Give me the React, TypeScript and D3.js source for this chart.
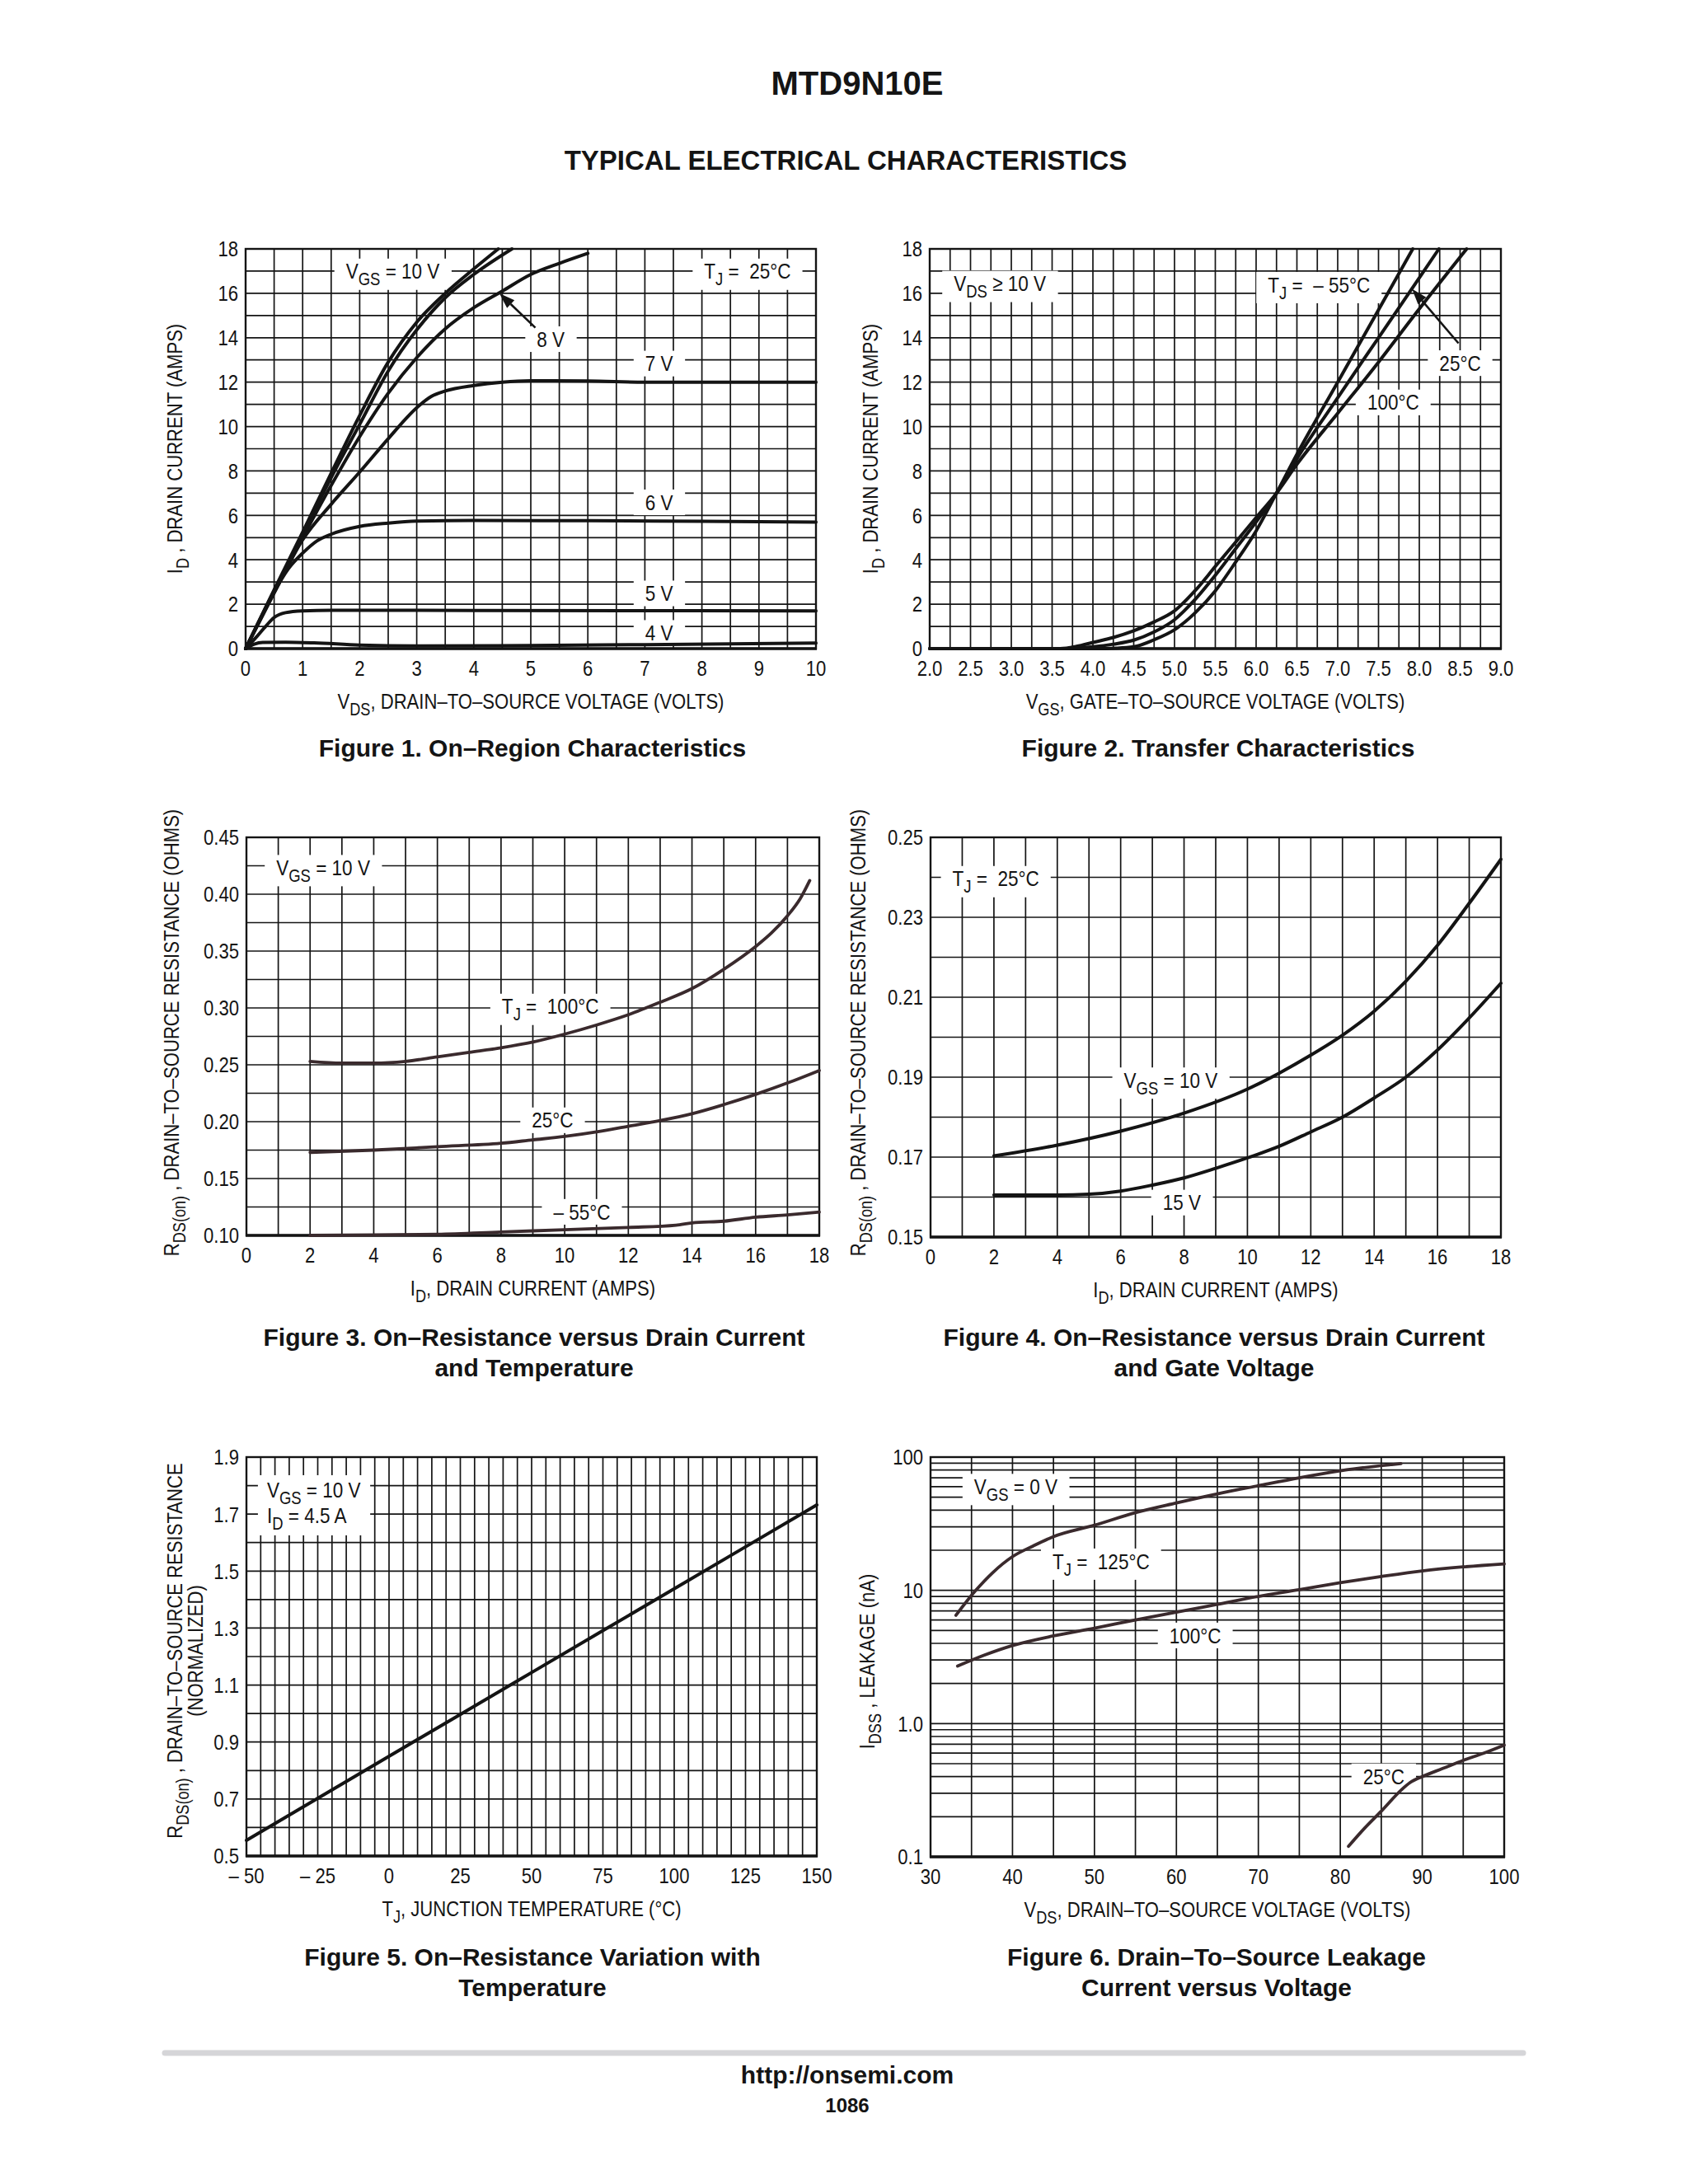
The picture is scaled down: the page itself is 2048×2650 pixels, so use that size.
import React, { useLayoutEffect, useRef, useState } from "react";
import * as d3 from "d3";

type Pt = [number, number];
type Part = [string, number?];

const FONT = "'Liberation Sans', Arial, Helvetica, sans-serif";
const INK = "#141414";
const BROWN = "#3a2a2d";
const SX = 0.85; // horizontal compression imitating a condensed face

// ---------------- Figure 1: On-Region Characteristics ----------------
const f1Vgs10: Pt[] = [[0, 0], [0.5, 2.65], [1, 5.25], [1.5, 7.9], [2, 10.5], [2.5, 12.9], [3, 14.7], [3.5, 16.0], [4, 17.1], [4.43, 18]];
const f1Vgs9: Pt[] = [[0, 0], [0.5, 2.6], [1, 5.15], [1.5, 7.7], [2, 10.1], [2.5, 12.5], [3, 14.35], [3.5, 15.8], [4, 16.85], [4.67, 18]];
const f1Vgs8: Pt[] = [[0, 0], [0.5, 2.55], [1, 5.0], [1.5, 7.35], [2, 9.55], [2.5, 11.5], [3, 13.1], [3.5, 14.4], [4, 15.35], [4.5, 16.1], [5, 16.85], [5.5, 17.35], [6, 17.8]];
const f1Vgs7: Pt[] = [[0, 0], [0.5, 2.5], [1, 4.9], [1.5, 6.5], [2, 7.95], [2.5, 9.45], [3, 10.85], [3.25, 11.35], [3.5, 11.6], [4, 11.85], [4.5, 12.0], [5, 12.06], [6, 12.05], [7, 12.0], [8, 12.0], [10, 12.0]];
const f1Vgs6: Pt[] = [[0, 0], [0.25, 1.3], [0.5, 2.55], [0.75, 3.6], [1, 4.3], [1.25, 4.85], [1.5, 5.15], [2, 5.5], [2.5, 5.65], [3, 5.74], [4, 5.77], [6, 5.76], [8, 5.73], [10, 5.7]];
const f1Vgs5: Pt[] = [[0, 0], [0.2, 0.55], [0.35, 1.0], [0.5, 1.4], [0.7, 1.62], [1, 1.7], [1.5, 1.73], [4, 1.72], [10, 1.7]];
const f1Vgs4: Pt[] = [[0, 0], [0.15, 0.2], [0.3, 0.28], [0.7, 0.29], [1.2, 0.26], [2, 0.16], [3, 0.12], [5, 0.14], [7, 0.18], [10, 0.25]];
const f1XTicks = [0, 1, 2, 3, 4, 5, 6, 7, 8, 9, 10];
const f1YTicks = [0, 2, 4, 6, 8, 10, 12, 14, 16, 18];

// ---------------- Figure 2: Transfer Characteristics ----------------
const f2Tm55: Pt[] = [[2, 0], [3.5, 0], [4.0, 0], [4.3, 0.02], [4.5, 0.08], [4.75, 0.4], [5.0, 0.85], [5.25, 1.6], [5.5, 2.6], [5.75, 3.9], [6.0, 5.3], [6.25, 7.0], [6.5, 8.75], [7.0, 12.0], [7.5, 15.25], [7.92, 18]];
const f2T25: Pt[] = [[2, 0], [3.7, 0], [4.0, 0.08], [4.25, 0.2], [4.5, 0.38], [4.75, 0.75], [5.0, 1.3], [5.25, 2.2], [5.5, 3.3], [5.75, 4.5], [6.0, 5.7], [6.25, 7.0], [6.5, 8.55], [7.0, 11.3], [7.5, 14.0], [8.0, 16.7], [8.24, 18]];
const f2T100: Pt[] = [[2, 0], [3.6, 0], [3.8, 0.1], [4.0, 0.28], [4.25, 0.5], [4.5, 0.8], [4.75, 1.2], [5.0, 1.7], [5.25, 2.6], [5.5, 3.7], [5.75, 4.8], [6.0, 5.9], [6.25, 7.0], [6.5, 8.3], [7.0, 10.6], [7.5, 12.9], [8.0, 15.3], [8.58, 18]];
const f2XTicks = [2.0, 2.5, 3.0, 3.5, 4.0, 4.5, 5.0, 5.5, 6.0, 6.5, 7.0, 7.5, 8.0, 8.5, 9.0];
const f2YTicks = [0, 2, 4, 6, 8, 10, 12, 14, 16, 18];

// ---------------- Figure 3: RDS(on) vs ID and temperature ----------------
const f3T100: Pt[] = [[2, 0.253], [3, 0.2515], [4, 0.2515], [5, 0.253], [6, 0.257], [7, 0.261], [8, 0.265], [9, 0.270], [10, 0.277], [11, 0.285], [12, 0.294], [13, 0.305], [14, 0.317], [15, 0.334], [16, 0.354], [16.5, 0.366], [17, 0.381], [17.4, 0.396], [17.7, 0.412]];
const f3T25: Pt[] = [[2, 0.173], [4, 0.175], [6, 0.178], [8, 0.181], [9, 0.184], [10, 0.187], [11, 0.191], [12, 0.196], [13, 0.201], [14, 0.207], [15, 0.215], [16, 0.224], [17, 0.234], [18, 0.245]];
const f3Tm55: Pt[] = [[2, 0.1], [4, 0.1005], [6, 0.101], [8, 0.103], [10, 0.105], [12, 0.107], [13.5, 0.109], [14, 0.111], [15, 0.1125], [16, 0.116], [17, 0.118], [18, 0.1205]];
const f3XTicks = [0, 2, 4, 6, 8, 10, 12, 14, 16, 18];
const f3YTicks = [0.1, 0.15, 0.2, 0.25, 0.3, 0.35, 0.4, 0.45];

// ---------------- Figure 4: RDS(on) vs ID and gate voltage ----------------
const f4Vgs10: Pt[] = [[2, 0.1703], [4, 0.173], [6, 0.1765], [8, 0.181], [10, 0.187], [11, 0.191], [12, 0.1955], [13, 0.2005], [14, 0.2065], [15, 0.214], [16, 0.223], [17, 0.2335], [18, 0.2445]];
const f4Vgs15: Pt[] = [[2, 0.1605], [4, 0.1605], [5, 0.1607], [6, 0.1615], [7, 0.163], [8, 0.1648], [9, 0.1672], [10, 0.1698], [11, 0.1727], [12, 0.1763], [13, 0.18], [14, 0.1848], [15, 0.19], [16, 0.1968], [17, 0.2048], [18, 0.2135]];
const f4XTicks = [0, 2, 4, 6, 8, 10, 12, 14, 16, 18];
const f4YTicks = [0.15, 0.17, 0.19, 0.21, 0.23, 0.25];

// ---------------- Figure 5: RDS(on) vs temperature ----------------
const f5Line: Pt[] = [[-50, 0.555], [0, 0.85], [25, 0.997], [50, 1.144], [75, 1.291], [100, 1.438], [125, 1.585], [150, 1.732]];
const f5XTicks = [-50, -25, 0, 25, 50, 75, 100, 125, 150];
const f5YTicks = [0.5, 0.7, 0.9, 1.1, 1.3, 1.5, 1.7, 1.9];

// ---------------- Figure 6: Leakage ----------------
const f6T125: Pt[] = [[33.1, 6.5], [35.4, 9.8], [37.6, 13.6], [40, 17.9], [42.5, 21.5], [45, 25.3], [50, 30.8], [55, 38.3], [60, 45.3], [65, 53], [70, 61], [75, 70], [80, 79], [87.4, 89.5]];
const f6T100: Pt[] = [[33.3, 2.7], [36.5, 3.25], [40, 3.85], [45, 4.55], [50, 5.2], [55, 6.0], [60, 6.85], [65, 7.85], [70, 9.0], [75, 10.1], [80, 11.4], [85, 12.7], [90, 14.0], [95, 15.0], [100, 15.8]];
const f6T25: Pt[] = [[81, 0.12], [83, 0.165], [85, 0.22], [87.5, 0.32], [88.5, 0.36], [90, 0.4], [92.5, 0.46], [95, 0.53], [97.5, 0.6], [100, 0.69]];
const f6XTicks = [30, 40, 50, 60, 70, 80, 90, 100];
const f6YTicks = [0.1, 1, 10, 100];
const f6YTickLabels = ["0.1", "1.0", "10", "100"];

// ---------------- helpers ----------------
function Rich({ parts, size }: { parts: Part[]; size: number }) {
  const out: any[] = [];
  let shifted = false;
  const d = size * 0.3;
  parts.forEach((p, i) => {
    const [t, sub] = p;
    if (sub && !shifted) {
      out.push(<tspan key={i} dy={d} fontSize={size * 0.82}>{t}</tspan>);
      shifted = true;
    } else if (!sub && shifted) {
      out.push(<tspan key={i} dy={-d} fontSize={size}>{t}</tspan>);
      shifted = false;
    } else {
      out.push(<tspan key={i} fontSize={sub ? size * 0.82 : size}>{t}</tspan>);
    }
  });
  return <>{out}</>;
}

// condensed text at (x, y baseline)
function CT({ x, y, size, anchor = "middle", rotate = false, children, weight }: any) {
  return (
    <text transform={`translate(${x},${y})${rotate ? " rotate(-90)" : ""} scale(${SX},1)`} x={0} y={0}
      textAnchor={anchor} fontSize={size} fontFamily={FONT} fill={INK} fontWeight={weight} style={{ whiteSpace: "pre" }}>
      {children}
    </text>
  );
}

const LS = 26.5;
function Label({ x, y, lines, size = LS, padX = 14, padY = 1, anchor = "middle", lineH = 31 }: any) {
  const ref = useRef<SVGGElement>(null);
  const [bb, setBb] = useState<any>(null);
  useLayoutEffect(() => {
    if (ref.current) {
      const b = ref.current.getBBox();
      setBb({ x: b.x, y: b.y, w: b.width, h: b.height });
    }
  }, [x, y]);
  return (
    <g>
      {bb && <rect x={bb.x - padX} y={bb.y - padY} width={bb.w + 2 * padX} height={bb.h + 2 * padY} fill="#fff" />}
      <g ref={ref}>
        {lines.map((parts: Part[], i: number) => (
          <CT key={i} x={x} y={y + size * 0.36 + (i - (lines.length - 1) / 2) * lineH} anchor={anchor} size={size}>
            <Rich parts={parts} size={size} />
          </CT>
        ))}
      </g>
    </g>
  );
}

function Arrow({ x1, y1, x2, y2 }: any) {
  const a = Math.atan2(y2 - y1, x2 - x1);
  const L = 19, Wd = 6.5;
  const bx = x2 - L * Math.cos(a), by = y2 - L * Math.sin(a);
  const px = -Math.sin(a) * Wd, py = Math.cos(a) * Wd;
  return (
    <g>
      <line x1={x1} y1={y1} x2={bx} y2={by} stroke={INK} strokeWidth={2.6} />
      <polygon points={`${x2},${y2} ${bx + px},${by + py} ${bx - px},${by - py}`} fill={INK} />
    </g>
  );
}

function Curve({ pts, xs, ys, color = INK, width = 4, linear = false }: any) {
  const gen = d3.line<Pt>().x((d) => xs(d[0])).y((d) => ys(d[1])).curve(linear ? d3.curveLinear : d3.curveMonotoneX);
  return <path d={gen(pts) || ""} fill="none" stroke={color} strokeWidth={width} strokeLinecap="round" strokeLinejoin="round" />;
}

const TK = 26;
const AT = 26;
function Panel({ box, xs, ys, gridX, gridY, tickX, fmtX, tickY, fmtY, xTitle, yTitles, yTitleX, yTitleY, children }: any) {
  const { L, R, T, B } = box;
  return (
    <g>
      <rect x={L} y={T} width={R - L} height={B - T} fill="#fff" />
      {gridX.map((v: number, i: number) => (
        <line key={"gx" + i} x1={xs(v)} x2={xs(v)} y1={T} y2={B} stroke={INK} strokeWidth={1.7} />
      ))}
      {gridY.map((v: number, i: number) => (
        <line key={"gy" + i} x1={L} x2={R} y1={ys(v)} y2={ys(v)} stroke={INK} strokeWidth={1.7} />
      ))}
      <rect x={L} y={T} width={R - L} height={B - T} fill="none" stroke={INK} strokeWidth={2.4} />
      <line x1={L - 1} x2={R + 1} y1={B} y2={B} stroke={INK} strokeWidth={3.6} />
      {tickX.map((v: number, i: number) => (
        <CT key={"tx" + i} x={xs(v)} y={B + 24 + TK * 0.36} size={TK}>{fmtX(v, i)}</CT>
      ))}
      {tickY.map((v: number, i: number) => (
        <CT key={"ty" + i} x={L - 9} y={ys(v) + TK * 0.36} size={TK} anchor="end">{fmtY(v, i)}</CT>
      ))}
      <CT x={(L + R) / 2} y={B + 64 + AT * 0.36} size={AT}>
        <Rich parts={xTitle} size={AT} />
      </CT>
      {yTitles.map((parts: Part[], i: number) => (
        <CT key={"yt" + i} x={yTitleX[i] + AT * 0.36} y={yTitleY} size={AT} rotate>
          <Rich parts={parts} size={AT} />
        </CT>
      ))}
      {children}
    </g>
  );
}

const rng = (a: number, b: number, n: number) => d3.range(n + 1).map((i) => a + ((b - a) * i) / n);

function Caption({ x, y, lines }: { x: number; y: number; lines: string[] }) {
  return (
    <g>
      {lines.map((t, i) => (
        <text key={i} x={x} y={y + i * 37} textAnchor="middle" fontSize={30} fontWeight="bold" fontFamily={FONT} fill={INK}>
          {t}
        </text>
      ))}
    </g>
  );
}

export default function App() {
  const b1 = { L: 298, R: 990, T: 302, B: 787 };
  const x1 = d3.scaleLinear().domain([0, 10]).range([b1.L, b1.R]);
  const y1 = d3.scaleLinear().domain([0, 18]).range([b1.B, b1.T]);
  const b2 = { L: 1128, R: 1821, T: 302, B: 787 };
  const x2 = d3.scaleLinear().domain([2, 9]).range([b2.L, b2.R]);
  const y2 = d3.scaleLinear().domain([0, 18]).range([b2.B, b2.T]);
  const b3 = { L: 299, R: 994, T: 1016, B: 1499 };
  const x3 = d3.scaleLinear().domain([0, 18]).range([b3.L, b3.R]);
  const y3 = d3.scaleLinear().domain([0.1, 0.45]).range([b3.B, b3.T]);
  const b4 = { L: 1129, R: 1821, T: 1016, B: 1501 };
  const x4 = d3.scaleLinear().domain([0, 18]).range([b4.L, b4.R]);
  const y4 = d3.scaleLinear().domain([0.15, 0.25]).range([b4.B, b4.T]);
  const b5 = { L: 299, R: 991, T: 1768, B: 2252 };
  const x5 = d3.scaleLinear().domain([-50, 150]).range([b5.L, b5.R]);
  const y5 = d3.scaleLinear().domain([0.5, 1.9]).range([b5.B, b5.T]);
  const b6 = { L: 1129, R: 1825, T: 1768, B: 2253 };
  const x6 = d3.scaleLinear().domain([30, 100]).range([b6.L, b6.R]);
  const y6 = d3.scaleLog().domain([0.1, 100]).range([b6.B, b6.T]);
  const f6GridY: number[] = [];
  [0.1, 1, 10].forEach((d) => { for (let k = 1; k <= 9; k++) f6GridY.push(d * k); });
  f6GridY.push(100);

  const num = (v: number) => String(v);

  return (
    <svg width={2048} height={2650} viewBox="0 0 2048 2650" style={{ position: "absolute", left: 0, top: 0, background: "#fff" }}>
      <rect x={0} y={0} width={2048} height={2650} fill="#fff" />
      <text x={1040} y={115} textAnchor="middle" fontSize={40} fontWeight="bold" fontFamily={FONT} fill={INK}>MTD9N10E</text>
      <text x={1026} y={206} textAnchor="middle" fontSize={33} fontWeight="bold" fontFamily={FONT} fill={INK}>TYPICAL ELECTRICAL CHARACTERISTICS</text>

      {/* Figure 1 */}
      <Panel box={b1} xs={x1} ys={y1} gridX={rng(0, 10, 20)} gridY={rng(0, 18, 18)} tickX={f1XTicks} fmtX={num} tickY={f1YTicks} fmtY={num}
        xTitle={[["V"], ["DS", 1], [", DRAIN–TO–SOURCE VOLTAGE (VOLTS)"]]}
        yTitles={[[["I"], ["D", 1], [" , DRAIN CURRENT (AMPS)"]]]} yTitleX={[212]} yTitleY={(b1.T + b1.B) / 2}>
        <Label x={x1(2.58)} y={y1(17)} lines={[[["V"], ["GS", 1], [" = 10 V"]]]} />
        <Label x={x1(8.8)} y={y1(17)} lines={[[["T"], ["J", 1], [" =  25°C"]]]} />
        <Label x={x1(5.35)} y={y1(13.95)} lines={[[["8 V"]]]} />
        <Label x={x1(7.25)} y={y1(12.85)} lines={[[["7 V"]]]} />
        <Label x={x1(7.25)} y={y1(6.6)} lines={[[["6 V"]]]} />
        <Label x={x1(7.25)} y={y1(2.5)} lines={[[["5 V"]]]} />
        <Label x={x1(7.25)} y={y1(0.72)} lines={[[["4 V"]]]} />
        {[f1Vgs10, f1Vgs9, f1Vgs8, f1Vgs7, f1Vgs6, f1Vgs5, f1Vgs4].map((c, i) => (
          <Curve key={i} pts={c} xs={x1} ys={y1} />
        ))}
        <Arrow x1={x1(5.08)} y1={y1(14.45)} x2={x1(4.45)} y2={y1(16.0)} />
      </Panel>

      {/* Figure 2 */}
      <Panel box={b2} xs={x2} ys={y2} gridX={rng(2, 9, 28)} gridY={rng(0, 18, 18)} tickX={f2XTicks} fmtX={(v: number) => v.toFixed(1)} tickY={f2YTicks} fmtY={num}
        xTitle={[["V"], ["GS", 1], [", GATE–TO–SOURCE VOLTAGE (VOLTS)"]]}
        yTitles={[[["I"], ["D", 1], [" , DRAIN CURRENT (AMPS)"]]]} yTitleX={[1056]} yTitleY={(b2.T + b2.B) / 2}>
        <Label x={x2(2.86)} y={y2(16.45)} lines={[[["V"], ["DS", 1], [" ≥ 10 V"]]]} />
        <Label x={x2(6.77)} y={y2(16.4)} lines={[[["T"], ["J", 1], [" =  – 55°C"]]]} />
        <Label x={x2(8.5)} y={y2(12.87)} lines={[[["25°C"]]]} />
        <Label x={x2(7.68)} y={y2(11.1)} lines={[[["100°C"]]]} />
        {[f2Tm55, f2T25, f2T100].map((c, i) => (
          <Curve key={i} pts={c} xs={x2} ys={y2} />
        ))}
        <Arrow x1={x2(8.48)} y1={y2(13.75)} x2={x2(7.91)} y2={y2(16.2)} />
      </Panel>

      {/* Figure 3 */}
      <Panel box={b3} xs={x3} ys={y3} gridX={rng(0, 18, 18)} gridY={rng(0.1, 0.45, 14)} tickX={f3XTicks} fmtX={num} tickY={f3YTicks} fmtY={(v: number) => v.toFixed(2)}
        xTitle={[["I"], ["D", 1], [", DRAIN CURRENT (AMPS)"]]}
        yTitles={[[["R"], ["DS(on)", 1], [" , DRAIN–TO–SOURCE RESISTANCE (OHMS)"]]]} yTitleX={[208]} yTitleY={1253}>
        <Label x={x3(2.41)} y={y3(0.4235)} lines={[[["V"], ["GS", 1], [" = 10 V"]]]} />
        <Label x={x3(9.55)} y={y3(0.3015)} lines={[[["T"], ["J", 1], [" =  100°C"]]]} />
        <Label x={x3(9.62)} y={y3(0.2015)} lines={[[["25°C"]]]} />
        <Label x={x3(10.54)} y={y3(0.121)} lines={[[["– 55°C"]]]} />
        {[f3T100, f3T25, f3Tm55].map((c, i) => (
          <Curve key={i} pts={c} xs={x3} ys={y3} color={BROWN} width={3.8} />
        ))}
      </Panel>

      {/* Figure 4 */}
      <Panel box={b4} xs={x4} ys={y4} gridX={rng(0, 18, 18)} gridY={rng(0.15, 0.25, 10)} tickX={f4XTicks} fmtX={num} tickY={f4YTicks} fmtY={(v: number) => v.toFixed(2)}
        xTitle={[["I"], ["D", 1], [", DRAIN CURRENT (AMPS)"]]}
        yTitles={[[["R"], ["DS(on)", 1], [" , DRAIN–TO–SOURCE RESISTANCE (OHMS)"]]]} yTitleX={[1041]} yTitleY={1253}>
        <Label x={x4(2.06)} y={y4(0.2397)} lines={[[["T"], ["J", 1], [" =  25°C"]]]} />
        <Label x={x4(7.58)} y={y4(0.1893)} lines={[[["V"], ["GS", 1], [" = 10 V"]]]} />
        <Label x={x4(7.93)} y={y4(0.1587)} lines={[[["15 V"]]]} />
        {[f4Vgs10, f4Vgs15].map((c, i) => (
          <Curve key={i} pts={c} xs={x4} ys={y4} />
        ))}
      </Panel>

      {/* Figure 5 */}
      <Panel box={b5} xs={x5} ys={y5} gridX={rng(-50, 150, 40)} gridY={rng(0.5, 1.9, 14)} tickX={f5XTicks}
        fmtX={(v: number) => (v < 0 ? "– " + Math.abs(v) : String(v))} tickY={f5YTicks} fmtY={(v: number) => v.toFixed(1)}
        xTitle={[["T"], ["J", 1], [", JUNCTION TEMPERATURE (°C)"]]}
        yTitles={[[["R"], ["DS(on)", 1], [" , DRAIN–TO–SOURCE RESISTANCE"]], [["(NORMALIZED)"]]]} yTitleX={[212, 237]} yTitleY={2003}>
        <Label x={x5(-42.8)} y={y5(1.742)} anchor="start" lineH={31} padX={11} padY={3}
          lines={[[["V"], ["GS", 1], [" = 10 V"]], [["I"], ["D", 1], [" = 4.5 A"]]]} />
        <Curve pts={f5Line} xs={x5} ys={y5} linear width={4} />
      </Panel>

      {/* Figure 6 */}
      <Panel box={b6} xs={x6} ys={y6} gridX={rng(30, 100, 14)} gridY={f6GridY} tickX={f6XTicks} fmtX={num} tickY={f6YTicks}
        fmtY={(v: number, i: number) => f6YTickLabels[i]}
        xTitle={[["V"], ["DS", 1], [", DRAIN–TO–SOURCE VOLTAGE (VOLTS)"]]}
        yTitles={[[["I"], ["DSS", 1], [" , LEAKAGE (nA)"]]]} yTitleX={[1052]} yTitleY={2016}>
        <Label x={x6(40.4)} y={y6(60.3)} lines={[[["V"], ["GS", 1], [" = 0 V"]]]} />
        <Label x={x6(50.8)} y={y6(16.6)} lines={[[["T"], ["J", 1], [" =  125°C"]]]} />
        <Label x={x6(62.3)} y={y6(4.61)} lines={[[["100°C"]]]} />
        <Label x={x6(85.3)} y={y6(0.404)} lines={[[["25°C"]]]} />
        {[f6T125, f6T100, f6T25].map((c, i) => (
          <Curve key={i} pts={c} xs={x6} ys={y6} color={BROWN} width={3.8} />
        ))}
      </Panel>

      <Caption x={646} y={918} lines={["Figure 1. On–Region Characteristics"]} />
      <Caption x={1478} y={918} lines={["Figure 2. Transfer Characteristics"]} />
      <Caption x={648} y={1633} lines={["Figure 3. On–Resistance versus Drain Current", "and Temperature"]} />
      <Caption x={1473} y={1633} lines={["Figure 4. On–Resistance versus Drain Current", "and Gate Voltage"]} />
      <Caption x={646} y={2385} lines={["Figure 5. On–Resistance Variation with", "Temperature"]} />
      <Caption x={1476} y={2385} lines={["Figure 6. Drain–To–Source Leakage", "Current versus Voltage"]} />

      <line x1={200} x2={1848} y1={2491} y2={2491} stroke="#d5d5d8" strokeWidth={7} strokeLinecap="round" />
      <text x={1028} y={2528} textAnchor="middle" fontSize={30} fontWeight="bold" fontFamily={FONT} fill={INK}>http://onsemi.com</text>
      <text x={1028} y={2563} textAnchor="middle" fontSize={24} fontWeight="bold" fontFamily={FONT} fill={INK}>1086</text>
    </svg>
  );
}
